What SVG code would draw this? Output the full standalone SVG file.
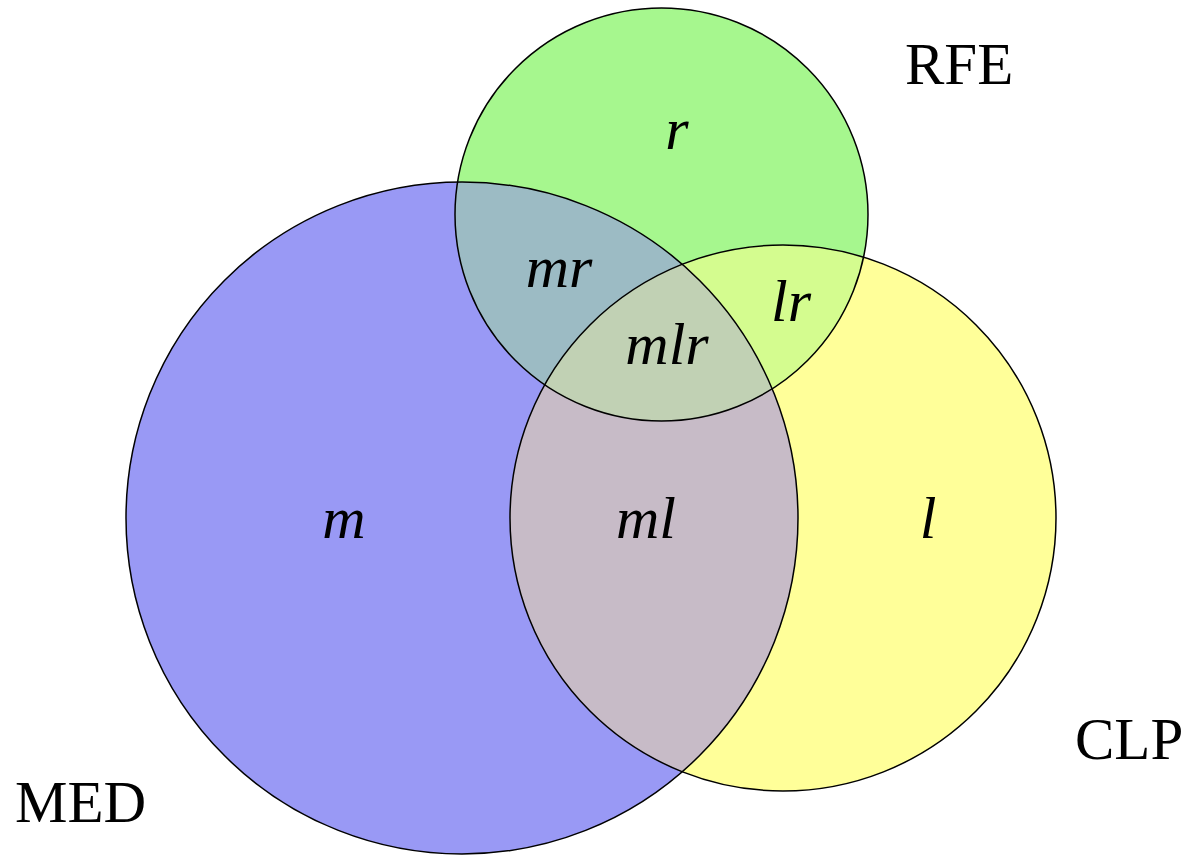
<svg xmlns="http://www.w3.org/2000/svg" width="1200" height="863" viewBox="0 0 1200 863">
  <style>
    .edge { fill: none; stroke: #000; stroke-width: 1.5; }
    .lab { font-family: "Liberation Serif", "Times New Roman", serif; font-style: italic; font-size: 60px; fill: #000; text-anchor: middle; }
    .set { font-family: "Liberation Serif", "Times New Roman", serif; font-size: 59px; fill: #000; }
  </style>
  <defs>
    <circle id="cM" cx="462" cy="518" r="336"/>
    <circle id="cR" cx="661.5" cy="214.5" r="206.5"/>
    <circle id="cL" cx="783" cy="518" r="273"/>
    <clipPath id="clipM"><use href="#cM"/></clipPath>
    <clipPath id="clipL"><use href="#cL"/></clipPath>
  </defs>
  <rect width="1200" height="863" fill="#fff"/>
  <g id="MED">
    <use href="#cM" fill="#9999f5"/>
  </g>
  <g id="CLP">
    <use href="#cL" fill="#ffff99"/>
  </g>
  <g id="RFE">
    <use href="#cR" fill="#a6f78e"/>
  </g>
  <g id="overlaps">
    <use href="#cL" fill="#c7bbc7" clip-path="url(#clipM)"/>
    <use href="#cR" fill="#9cbbc4" clip-path="url(#clipM)"/>
    <use href="#cR" fill="#d4fc8f" clip-path="url(#clipL)"/>
    <g clip-path="url(#clipM)">
      <use href="#cR" fill="#c1d1b4" clip-path="url(#clipL)"/>
    </g>
  </g>
  <g id="outlines">
    <use href="#cM" class="edge"/>
    <use href="#cL" class="edge"/>
    <use href="#cR" class="edge"/>
  </g>
  <g id="region-labels">
    <text class="lab" x="677" y="149">r</text>
    <text class="lab" x="559" y="287">mr</text>
    <text class="lab" x="791" y="321">lr</text>
    <text class="lab" x="667" y="364">mlr</text>
    <text class="lab" x="344" y="538">m</text>
    <text class="lab" x="646" y="538">ml</text>
    <text class="lab" x="928" y="538">l</text>
  </g>
  <g id="set-labels">
    <text class="set" x="905" y="84">RFE</text>
    <text class="set" x="1075" y="759">CLP</text>
    <text class="set" x="15" y="822">MED</text>
  </g>
</svg>
